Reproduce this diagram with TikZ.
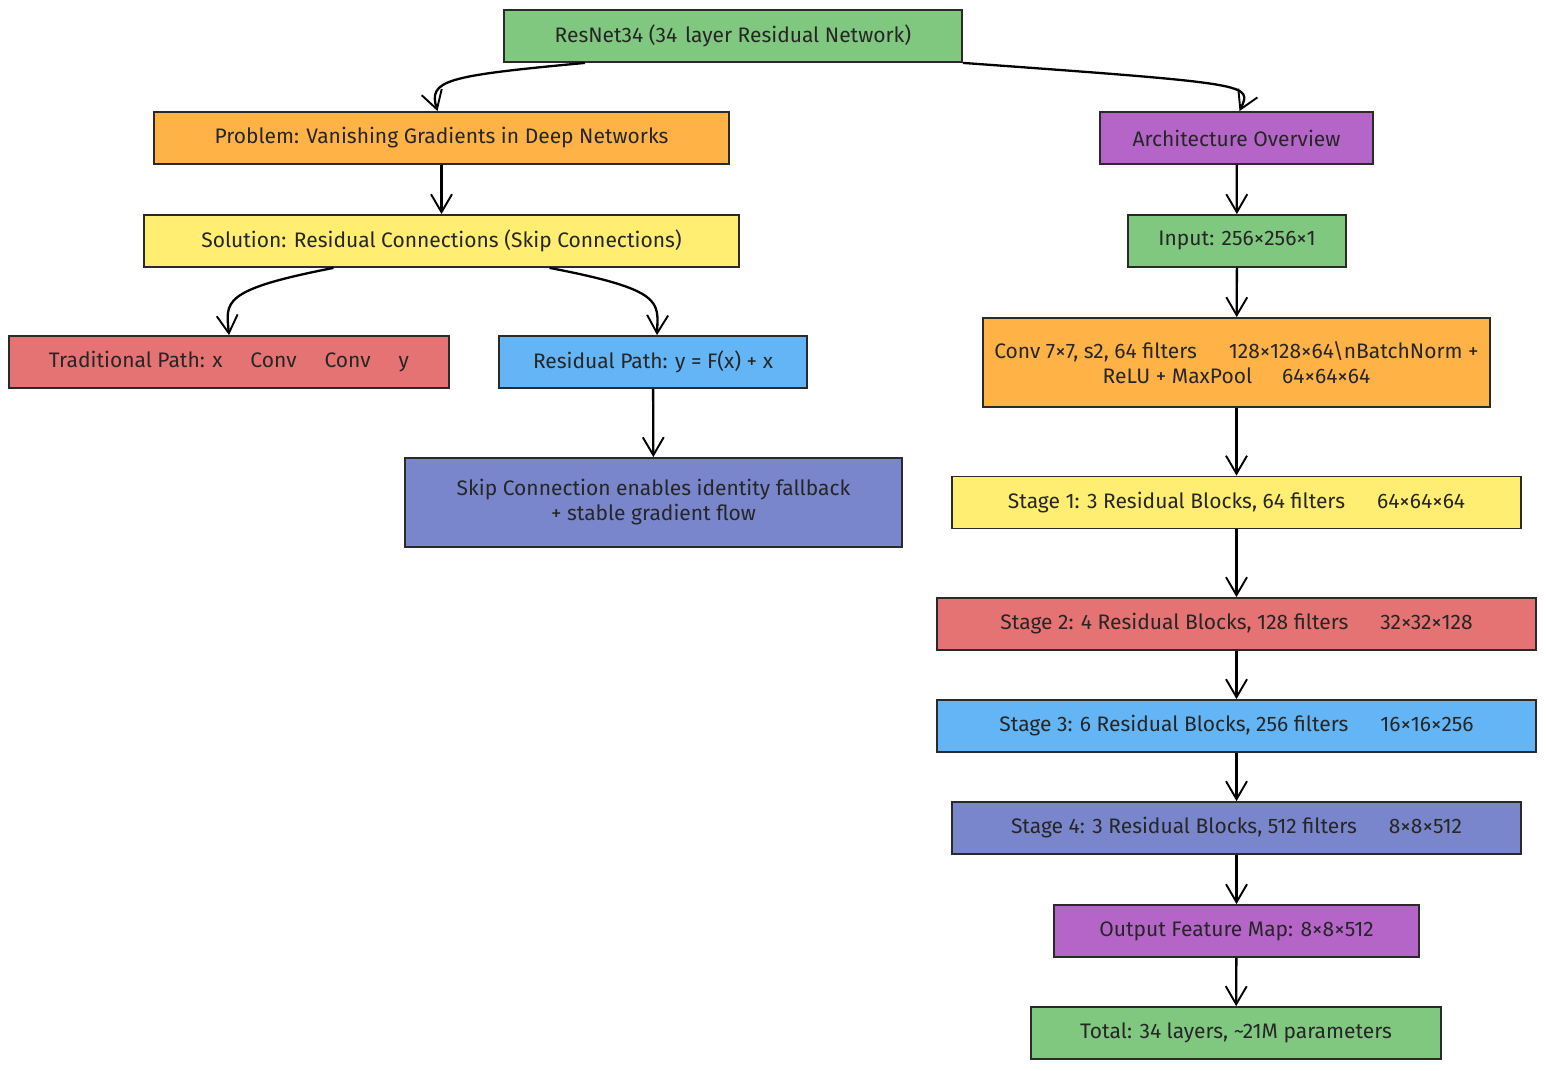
\documentclass[tikz,border=0pt]{standalone}
\usepackage{fontspec}
\setmainfont{Fira Sans}
\usetikzlibrary{arrows.meta}
\definecolor{cgreen}{HTML}{80C77F}
\definecolor{corange}{HTML}{FFB347}
\definecolor{cpurple}{HTML}{B565C8}
\definecolor{cyellow}{HTML}{FFEE72}
\definecolor{cred}{HTML}{E57373}
\definecolor{cblue}{HTML}{64B5F6}
\definecolor{cindigo}{HTML}{7986CB}
\definecolor{cline}{HTML}{2A2A2A}
\begin{document}
\begin{tikzpicture}[x=1pt,y=-1pt,
  box/.style={draw=cline, line width=1.8pt, minimum height=52pt, inner sep=0pt,
    font=\fontsize{21}{25}\selectfont, text=black!85},
  arr/.style={draw=black, line width=2.3pt, -{Straight Barb[length=18pt,width=21pt,line width=1.9pt]}},
  lbl/.style={font=\fontsize{21}{25}\selectfont, text=black!85, align=center, inner sep=0pt}]
\useasboundingbox[fill=white] (0,0) rectangle (1546,1070);

\node[box, fill=cgreen, minimum width=458pt] (res) at (733,36) {ResNet34 (34\hspace{8pt}layer Residual Network)};
\node[box, fill=corange, minimum width=575pt] (prob) at (441.5,138) {Problem: Vanishing Gradients in Deep Networks};
\node[box, fill=cpurple, minimum width=273pt] (arch) at (1236.5,138) {Architecture Overview};
\node[box, fill=cyellow, minimum width=595pt] (sol) at (441.5,241) {Solution: Residual Connections (Skip Connections)};
\node[box, fill=cgreen, minimum width=218pt] (inp) at (1237,241) {Input: 256×256×1};
\node[box, fill=cred, minimum width=440pt] (trad) at (229,362) {Traditional Path: x\hspace{28pt}Conv\hspace{28pt}Conv\hspace{28pt}y};
\node[box, fill=cblue, minimum width=308pt] (rp) at (653,362) {Residual Path: y = F(x) + x};
\node[box, fill=corange, minimum width=507pt, minimum height=89pt] (conv) at (1236.5,362.5) {};
\node[lbl] (convtxt) at (conv.center) {Conv 7×7, s2, 64 filters\hspace{32pt}128×128×64\textbackslash nBatchNorm +\\ReLU + MaxPool\hspace{30pt}64×64×64};
\node[box, fill=cindigo, minimum width=497pt, minimum height=89pt, align=center] (skip) at (653.5,502.5) {Skip Connection enables identity fallback\\+ stable gradient flow};
\node[box, fill=cyellow, minimum width=569pt] (s1) at (1236.5,502.5) {Stage 1: 3 Residual Blocks, 64 filters\hspace{32pt}64×64×64};
\node[box, fill=cred, minimum width=599pt] (s2) at (1236.5,624) {Stage 2: 4 Residual Blocks, 128 filters\hspace{32pt}32×32×128};
\node[box, fill=cblue, minimum width=599pt] (s3) at (1236.5,726) {Stage 3: 6 Residual Blocks, 256 filters\hspace{32pt}16×16×256};
\node[box, fill=cindigo, minimum width=569pt] (s4) at (1236.5,828) {Stage 4: 3 Residual Blocks, 512 filters\hspace{32pt}8×8×512};
\node[box, fill=cpurple, minimum width=365pt] (out) at (1236.5,931) {Output Feature Map: 8×8×512};
\node[box, fill=cgreen, minimum width=410pt] (tot) at (1236,1033) {Total: 34 layers, \textasciitilde21M parameters};

% curved connectors
\draw[arr] ([xshift=-148pt]res.south) .. controls (445,76) and (428,80) .. ([xshift=-4pt]prob.north);
\draw[arr] (res.south east) .. controls (1255,84) and (1252,84) .. ([xshift=3pt]arch.north);
\draw[arr] ([xshift=-108pt]sol.south) .. controls (220,290) and (226,302) .. (trad.north);
\draw[arr] ([xshift=108pt]sol.south) .. controls (665,290) and (658,302) .. ([xshift=4pt]rp.north);

% straight connectors
\draw[arr] (prob) -- (sol);
\draw[arr] (rp) -- (skip);
\draw[arr] (arch) -- (inp);
\draw[arr] (inp) -- (conv);
\draw[arr] (conv) -- (s1);
\draw[arr] (s1) -- (s2);
\draw[arr] (s2) -- (s3);
\draw[arr] (s3) -- (s4);
\draw[arr] (s4) -- (out);
\draw[arr] (out) -- (tot);
\end{tikzpicture}
\end{document}
